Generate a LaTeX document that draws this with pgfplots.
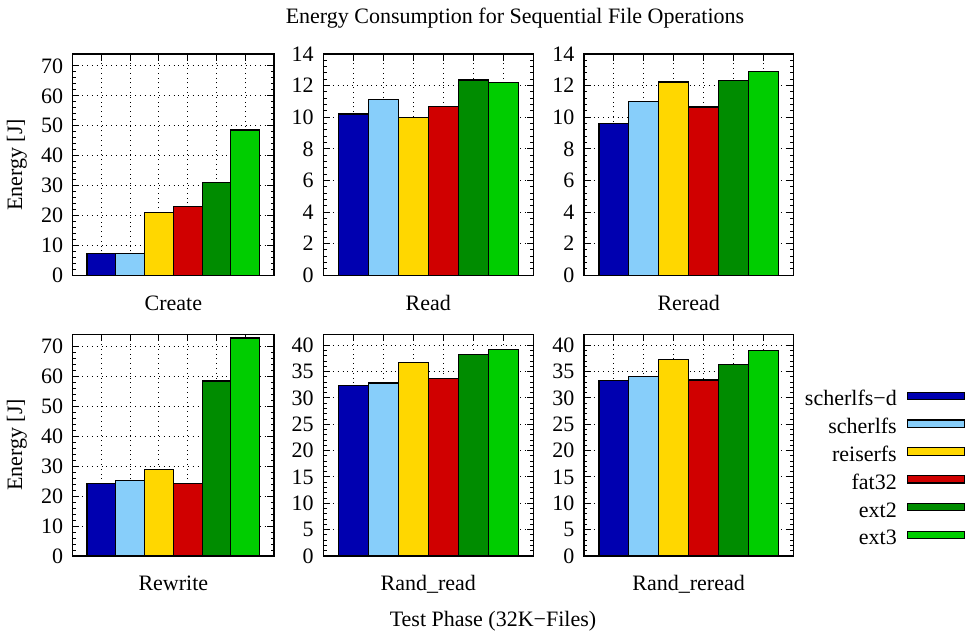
\documentclass[border=0pt]{standalone}
\usepackage{fontspec}
\setmainfont{Liberation Serif}
\usepackage{pgfplots}
\pgfplotsset{compat=1.18}

\definecolor{cA}{RGB}{0,0,176}
\definecolor{cB}{RGB}{135,206,250}
\definecolor{cC}{RGB}{255,215,0}
\definecolor{cD}{RGB}{208,0,0}
\definecolor{cE}{RGB}{0,140,0}
\definecolor{cF}{RGB}{0,205,0}

\newcommand{\fs}{\fontsize{11}{13}\selectfont}

\pgfplotsset{
  panel/.style={
    scale only axis,
    anchor=south west,
    height=110.65pt,
    ybar, bar width=1, bar shift=0pt,
    xmin=-1, xmax=6, ymin=0,
    xtick={0,1,2,3,4,5}, xticklabels={},
    xmajorgrids, ymajorgrids,
    major grid style={black, dotted, line width=0.5pt},
    tick style={black, line width=0.5pt},
    major tick length=3.3pt, minor tick length=1.6pt,
    minor y tick num=4,
    tick align=inside,
    axis line style={black, line width=0.6pt},
    /pgf/number format/assume math mode=true,
    ticklabel style={font=\fs},
    yticklabel style={xshift=-1.3pt},
    xlabel style={at={(axis description cs:0.5,0)}, anchor=base, yshift=-17.4pt, font=\fs, inner sep=0pt},
    every axis plot/.append style={draw=black, line width=0.6pt},
    legend image code/.code={\draw[##1] (0pt,0.65pt) rectangle (28.5pt,4.35pt);},
  },
  big/.style={ymax=74, ytick={0,10,...,70}},
  small/.style={ymax=14, ytick={0,2,...,14}},
  rand/.style={ymax=42, ytick={0,5,...,40}},
}

\begin{document}
\begin{tikzpicture}[font=\fs]
\path[use as bounding box] (0pt,0pt) rectangle (484pt,317.5pt);

% Row 1
\begin{axis}[panel, big, at={(36.35pt,179.85pt)}, width=100.65pt, xlabel={Create}]
\addplot[fill=cA] coordinates {(0,7.4)};
\addplot[fill=cB] coordinates {(1,7.3)};
\addplot[fill=cC] coordinates {(2,21.0)};
\addplot[fill=cD] coordinates {(3,23.1)};
\addplot[fill=cE] coordinates {(4,31.1)};
\addplot[fill=cF] coordinates {(5,48.6)};
\end{axis}

\begin{axis}[panel, small, at={(161.65pt,179.85pt)}, width=105pt, xlabel={Read}]
\addplot[fill=cA] coordinates {(0,10.2)};
\addplot[fill=cB] coordinates {(1,11.1)};
\addplot[fill=cC] coordinates {(2,10.0)};
\addplot[fill=cD] coordinates {(3,10.7)};
\addplot[fill=cE] coordinates {(4,12.35)};
\addplot[fill=cF] coordinates {(5,12.2)};
\end{axis}

\begin{axis}[panel, small, at={(292pt,179.85pt)}, width=104.65pt, xlabel={Reread}]
\addplot[fill=cA] coordinates {(0,9.62)};
\addplot[fill=cB] coordinates {(1,10.99)};
\addplot[fill=cC] coordinates {(2,12.23)};
\addplot[fill=cD] coordinates {(3,10.65)};
\addplot[fill=cE] coordinates {(4,12.34)};
\addplot[fill=cF] coordinates {(5,12.89)};
\end{axis}

% Row 2
\begin{axis}[panel, big, at={(36.35pt,39.5pt)}, width=100.65pt, xlabel={Rewrite}]
\addplot[fill=cA] coordinates {(0,24.3)};
\addplot[fill=cB] coordinates {(1,25.3)};
\addplot[fill=cC] coordinates {(2,29.0)};
\addplot[fill=cD] coordinates {(3,24.3)};
\addplot[fill=cE] coordinates {(4,58.5)};
\addplot[fill=cF] coordinates {(5,72.9)};
\end{axis}

\begin{axis}[panel, rand, at={(161.65pt,39.5pt)}, width=105pt, xlabel={Rand\_read}]
\addplot[fill=cA] coordinates {(0,32.4)};
\addplot[fill=cB] coordinates {(1,32.85)};
\addplot[fill=cC] coordinates {(2,36.65)};
\addplot[fill=cD] coordinates {(3,33.7)};
\addplot[fill=cE] coordinates {(4,38.2)};
\addplot[fill=cF] coordinates {(5,39.2)};
\end{axis}

\begin{axis}[panel, rand, at={(292pt,39.5pt)}, width=104.65pt, xlabel={Rand\_reread},
  legend plot pos=right,
  legend cell align=right,
  legend style={draw=none, fill=none, at={(1.8204,0.7456)}, anchor=north east,
    inner sep=0pt, outer sep=0pt, row sep=3.9pt, column sep=5pt,
    nodes={inner sep=0pt, text height=7.5pt, text depth=2.5pt, font=\fs}},
]
\addplot[fill=cA] coordinates {(0,33.3)};
\addplot[fill=cB] coordinates {(1,34.0)};
\addplot[fill=cC] coordinates {(2,37.3)};
\addplot[fill=cD] coordinates {(3,33.4)};
\addplot[fill=cE] coordinates {(4,36.4)};
\addplot[fill=cF] coordinates {(5,39.05)};
\legend{scherlfs−d, scherlfs, reiserfs, fat32, ext2, ext3}
\end{axis}

\node[anchor=base] at (257.5pt,305.5pt) {Energy Consumption for Sequential File Operations};
\node[anchor=base] at (246.5pt,4pt) {Test Phase (32K−Files)};
\node[anchor=base, rotate=90] at (11pt,235pt) {Energy [J]};
\node[anchor=base, rotate=90] at (11pt,95pt) {Energy [J]};
\end{tikzpicture}
\end{document}
